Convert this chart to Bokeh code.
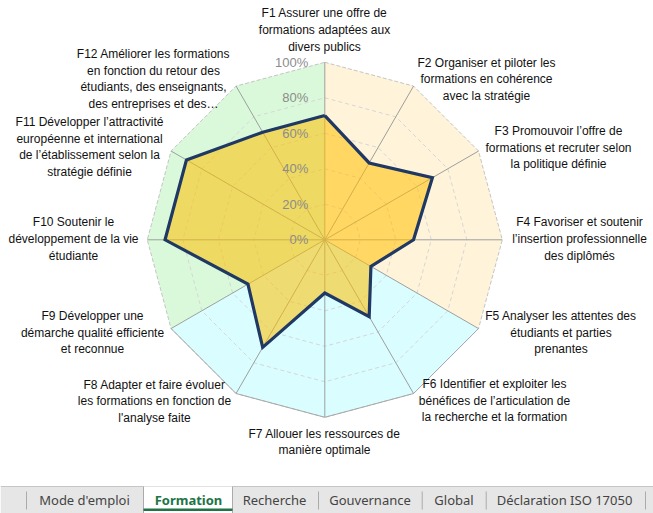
import math
from bokeh.plotting import figure
from bokeh.models import Range1d
from bokeh.core.properties import value
from bokeh.embed import file_html
from bokeh.resources import INLINE

# ---------------- data ----------------
categories = ["F1", "F2", "F3", "F4", "F5", "F6", "F7", "F8", "F9", "F10", "F11", "F12"]
label_lines = [
    ["F1 Assurer une offre de", "formations adaptées aux", "divers publics"],
    ["F2 Organiser et piloter les", "formations en cohérence", "avec la stratégie"],
    ["F3 Promouvoir l’offre de", "formations et recruter selon", "la politique définie"],
    ["F4 Favoriser et soutenir", "l’insertion professionnelle", "des diplômés"],
    ["F5 Analyser les attentes des", "étudiants et parties", "prenantes"],
    ["F6 Identifier et exploiter les", "bénéfices de l’articulation de", "la recherche et la formation"],
    ["F7 Allouer les ressources de", "manière optimale"],
    ["F8 Adapter et faire évoluer", "les formations en fonction de", "l'analyse faite"],
    ["F9 Développer une", "démarche qualité efficiente", "et reconnue"],
    ["F10 Soutenir le", "développement de la vie", "étudiante"],
    ["F11 Développer l’attractivité", "européenne et international", "de l’établissement selon la", "stratégie définie"],
    ["F12 Améliorer les formations", "en fonction du retour des", "étudiants, des enseignants,", "des entreprises et des…"],
]
scores = [70, 50, 70, 50, 30, 50, 30, 70, 50, 90, 90, 70]
tick_values = [0, 20, 40, 60, 80, 100]
tick_labels = ["0%", "20%", "40%", "60%", "80%", "100%"]
zone_names = ["green", "yellow", "blue"]
zone_axes = [[8, 9, 10, 11, 0], [0, 1, 2, 3, 4], [4, 5, 6, 7, 8]]
tabs = ["Mode d'emploi", "Formation", "Recherche", "Gouvernance", "Global", "Déclaration ISO 17050"]
active_tab = "Formation"

# ---------------- layout / style ----------------
W, H = 653, 513
CX, CY, R = 324.3, 239.3, 177.5
N = len(categories)
zone_colors = {"green": "#DAF9DA", "yellow": "#FFF4DA", "blue": "#DAFEFF"}
label_centers = [(324, 29.3), (486, 78.7), (558, 147), (579, 238.5), (560.5, 332),
                 (494, 400), (324, 441.5), (154, 400.7), (92, 332), (73, 238.5),
                 (89, 146.5), (153, 78.5)]
LINE_H = 16.7
tab_centers = [84, 188, 274, 369.5, 453.5, 564]
tab_separators = [26, 318, 421.7, 485.7, 645]
active_box = (143, 232)
BAR_TOP = 486


def pt(i, v):
    a = 2 * math.pi * i / N
    r = v / 100.0 * R
    return CX + r * math.sin(a), CY - r * math.cos(a)


p = figure(width=W, height=H, x_range=Range1d(0, W), y_range=Range1d(H, 0),
           x_axis_type=None, y_axis_type=None, toolbar_location=None,
           output_backend="svg", min_border=0, outline_line_color=None)
p.background_fill_color = "white"
p.border_fill_color = "white"

# background zones
for name, axes in zip(zone_names, zone_axes):
    xs, ys = [CX], [CY]
    for i in axes:
        x, y = pt(i, 100)
        xs.append(x)
        ys.append(y)
    p.patch(xs, ys, fill_color=zone_colors[name], line_color=None)

# inner rings (dashed)
for t in tick_values[1:-1]:
    xs, ys = [], []
    for i in range(N + 1):
        x, y = pt(i % N, t)
        xs.append(x)
        ys.append(y)
    p.line(xs, ys, line_color="#D6D6D6", line_width=1, line_dash="4 3")

# outer ring
xs, ys = [], []
for i in range(N + 1):
    x, y = pt(i % N, 100)
    xs.append(x)
    ys.append(y)
p.line(xs, ys, line_color="#C4C4C4", line_width=1, line_dash="4 2")
bx, by = [], []
for i in zone_axes[2]:
    x, y = pt(i, 100)
    bx.append(x)
    by.append(y)
p.line(bx, by, line_color="#A8A8A8", line_width=1)

# spokes
sx0, sy0, sx1, sy1 = [], [], [], []
for i in range(N):
    x, y = pt(i, 100)
    sx0.append(CX); sy0.append(CY); sx1.append(x); sy1.append(y)
p.segment(sx0, sy0, sx1, sy1, line_color="#9E9E9E", line_width=1)

# data polygon
dx, dy = [], []
for i, v in enumerate(scores):
    x, y = pt(i, v)
    dx.append(x)
    dy.append(y)
p.patch(dx, dy, fill_color="#FFC000", fill_alpha=0.55, line_color=None)
p.line(dx + [dx[0]], dy + [dy[0]], line_color="#1F3864", line_width=3.2, line_join="miter")

# tick labels
tx, ty = [], []
for t in tick_values:
    tx.append(CX - 16.5)
    ty.append(CY - t / 100.0 * R)
p.text(tx, ty, text=tick_labels, text_align="right", text_baseline="middle",
       text_font=value("Liberation Sans"), text_font_size="13px", text_color="#8C8C8C")

# category labels
lx, ly, lt = [], [], []
for (cx, cy), lines in zip(label_centers, label_lines):
    n = len(lines)
    for k, s in enumerate(lines):
        lx.append(cx)
        ly.append(cy + (k - (n - 1) / 2) * LINE_H)
        lt.append(s)
p.text(lx, ly, text=lt, text_align="center", text_baseline="middle",
       text_font=value("Liberation Sans"), text_font_size="12px", text_color="#111111")

# ---------------- sheet tabs ----------------
p.quad(left=0, right=W, top=BAR_TOP, bottom=H, fill_color="#E6E6E6", line_color=None)
p.segment([0], [BAR_TOP], [W], [BAR_TOP], line_color="#C6C6C6", line_width=1)
p.quad(left=active_box[0], right=active_box[1], top=BAR_TOP, bottom=H,
       fill_color="white", line_color=None)
p.segment([active_box[0], active_box[1]], [BAR_TOP, BAR_TOP], [active_box[0], active_box[1]], [H, H],
          line_color="#ABABAB", line_width=1)
p.quad(left=active_box[0], right=active_box[1], top=508, bottom=510.5,
       fill_color="#217346", line_color=None)
p.segment(tab_separators, [491] * len(tab_separators), tab_separators, [509] * len(tab_separators),
          line_color="#ABABAB", line_width=1)

normal = [t for t in tabs if t != active_tab]
p.text([tab_centers[tabs.index(t)] for t in normal], [499] * len(normal), text=normal,
       text_align="center", text_baseline="middle", text_font=value("Noto Sans"),
       text_font_size="13px", text_color="#444444")
p.text([tab_centers[tabs.index(active_tab)]], [499], text=[active_tab],
       text_align="center", text_baseline="middle", text_font=value("Noto Sans"),
       text_font_size="13px", text_font_style="bold", text_color="#217346")

open("out.html", "w").write(file_html(p, INLINE))
